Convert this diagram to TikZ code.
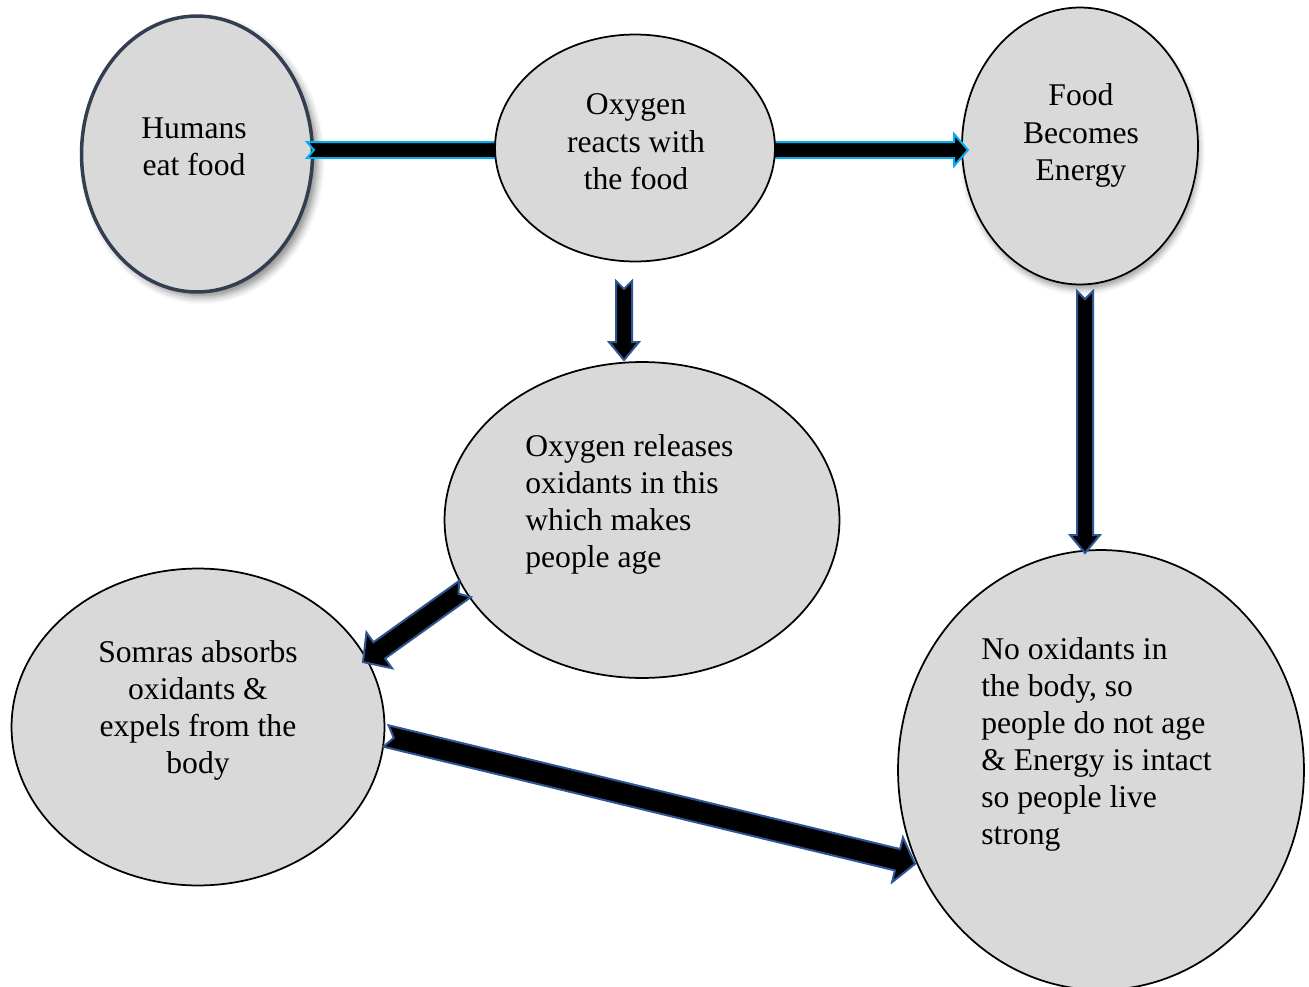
\documentclass[tikz,border=0pt]{standalone}
\usepackage{fontspec}
\setmainfont{Liberation Serif}
\usetikzlibrary{calc,shapes.geometric,shadows.blur}

\definecolor{bubblegray}{HTML}{D9D9D9}
\definecolor{slate}{HTML}{333F50}
\definecolor{arrowcyan}{HTML}{00B0F0}
\definecolor{arrowblue}{HTML}{2F5597}

% block arrow: [style]{tail}{tip}{half shaft}{half head}{head length}{notch}
\newcommand{\blockarrow}[7][]{%
  \coordinate (ba-h) at ($(#3)!#6!(#2)$);
  \filldraw[#1] ($(#2)!#4!90:(#3)$) -- ($(ba-h)!#4!90:(#3)$) -- ($(ba-h)!#5!90:(#3)$)
    -- (#3) -- ($(ba-h)!#5!-90:(#3)$) -- ($(ba-h)!#4!-90:(#3)$)
    -- ($(#2)!#4!-90:(#3)$) -- ($(#2)!#7!(#3)$) -- cycle;
}

\begin{document}
\begin{tikzpicture}[x=0.02cm,y=-0.02cm]
	\tikzstyle{bubble}=[ellipse,fill=bubblegray,draw=black,line width=0.035cm,inner sep=0pt]
	\tikzstyle{txt}=[font=\fontsize{18}{21.06}\selectfont,inner sep=0pt,align=center]
	\tikzstyle{cyanarrow}=[fill=black,draw=arrowcyan,line width=0.04cm,line join=miter]
	\tikzstyle{bluearrow}=[fill=black,draw=arrowblue,line width=0.04cm,line join=miter]

	\useasboundingbox (0,0) rectangle (1309,987);

	% bubbles
	\node[bubble,draw=slate,line width=0.07cm,minimum width=4.62cm,minimum height=5.52cm,
		blur shadow={shadow xshift=3pt,shadow yshift=-3pt,shadow blur radius=4pt,shadow opacity=45}] (hum) at (197,154) {};
	\node[bubble,minimum width=4.72cm,minimum height=5.54cm,
		blur shadow={shadow xshift=1pt,shadow yshift=-3pt,shadow blur radius=3pt,shadow opacity=35}] (food) at (1080,146) {};
	\node[bubble,minimum width=7.9cm,minimum height=6.32cm] (rel) at (642,520) {};
	\node[bubble,minimum width=7.46cm,minimum height=6.34cm] (som) at (198,727) {};
	\node[bubble,minimum width=8.12cm,minimum height=8.8cm] (noox) at (1101,770) {};

	% arrow ends
	\coordinate (a1s) at (307,150);
	\coordinate (a1e) at (530,150);
	\coordinate (a2s) at (765,150);
	\coordinate (a2e) at (968,150);
	\coordinate (a3s) at (624,281);
	\coordinate (a3e) at (624,360);
	\coordinate (a4s) at (1085,291);
	\coordinate (a4e) at (1085,553);
	\coordinate (a5s) at (465,589);
	\coordinate (a5e) at (363,662);
	\coordinate (a6s) at (386,736);
	\coordinate (a6e) at (915,864);

	\blockarrow[cyanarrow]{a1s}{a1e}{0.16cm}{0.32cm}{0.28cm}{0.14cm}
	\blockarrow[cyanarrow]{a2s}{a2e}{0.16cm}{0.32cm}{0.28cm}{0.14cm}
	\blockarrow[bluearrow]{a3s}{a3e}{0.16cm}{0.3cm}{0.36cm}{0.16cm}
	\blockarrow[bluearrow]{a4s}{a4e}{0.16cm}{0.3cm}{0.36cm}{0.16cm}
	\blockarrow[bluearrow]{a5s}{a5e}{0.2cm}{0.44cm}{0.4cm}{0.16cm}
	\blockarrow[bluearrow]{a6s}{a6e}{0.22cm}{0.46cm}{0.36cm}{0.16cm}

	\node[bubble,minimum width=5.6cm,minimum height=4.54cm] (oxy) at (635,148) {};

	% texts (anchored at the baseline of the last line)
	\node[txt,anchor=base] (hum-t) at (194,175) {Humans\\eat food};
	\node[txt,anchor=base] (oxy-t) at (636,189) {Oxygen\\reacts with\\the food};
	\node[txt,anchor=base] (food-t) at (1081,180) {Food\\Becomes\\Energy};
	\node[txt,anchor=base west,align=left] (rel-t) at (525,567) {Oxygen releases\\oxidants in this\\which makes\\people age};
	\node[txt,anchor=base] (som-t) at (198,773) {Somras absorbs\\oxidants \&\\expels from the\\body};
	\node[txt,anchor=base west,align=left] (noox-t) at (981,844) {No oxidants in\\the body, so\\people do not age\\\& Energy is intact\\so people live\\strong};
\end{tikzpicture}
\end{document}
